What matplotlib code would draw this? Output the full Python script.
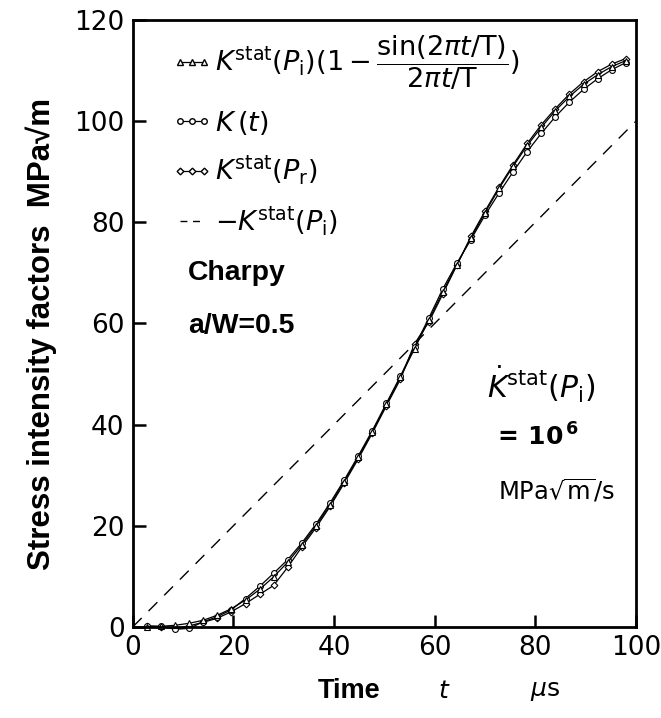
import matplotlib
matplotlib.use("Agg")
import matplotlib.pyplot as plt
from matplotlib.lines import Line2D
from matplotlib import font_manager

# Time samples (microseconds)
time_us = [2.8, 5.6, 8.4, 11.2, 14.0, 16.8, 19.6, 22.4, 25.2, 28.0,
           30.8, 33.6, 36.4, 39.2, 42.0, 44.8, 47.6, 50.4, 53.2, 56.0,
           58.8, 61.6, 64.4, 67.2, 70.0, 72.8, 75.6, 78.4, 81.2, 84.0,
           86.8, 89.6, 92.4, 95.2, 98.0]

# K^stat(P_i)(1 - sin(2 pi t/T)/(2 pi t/T))
k_sine = [0.0, 0.1, 0.3, 0.7, 1.3, 2.3, 3.6, 5.3, 7.4, 9.9,
          12.8, 16.2, 20.0, 24.1, 28.7, 33.5, 38.6, 44.0, 49.4, 55.0,
          60.6, 66.2, 71.6, 76.9, 81.9, 86.7, 91.1, 95.2, 98.8, 102.1,
          104.9, 107.3, 109.2, 110.8, 112.0]

# dynamic K(t)
k_dyn = [0.2, 0.1, -0.5, -0.3, 1.0, 2.0, 3.4, 5.6, 8.0, 10.6,
         13.3, 16.6, 20.3, 24.5, 29.0, 33.8, 38.8, 44.2, 49.6, 55.4,
         61.0, 66.8, 71.9, 76.6, 81.4, 85.8, 90.0, 94.0, 97.6, 100.9,
         103.8, 106.3, 108.4, 110.2, 111.6]

# K^stat(P_r)
k_pr = [0.1, 0.0, -0.3, 0.2, 0.9, 1.7, 3.0, 4.6, 6.4, 8.2,
        11.8, 15.8, 19.6, 23.8, 28.4, 33.2, 38.3, 43.7, 49.0, 56.0,
        60.2, 65.8, 71.5, 77.2, 82.2, 87.0, 91.4, 95.6, 99.3, 102.5,
        105.4, 107.8, 109.8, 111.3, 112.4]

# K^stat(P_i), linear loading
t_lin = [0, 100]
k_lin = [0, 100]

x_ticks = [0, 20, 40, 60, 80, 100]
y_ticks = [0, 20, 40, 60, 80, 100, 120]

# prefer a narrow bold face for the titles when available
installed = {f.name for f in font_manager.fontManager.ttflist}
has_narrow = "Liberation Sans Narrow" in installed
narrow = ["Liberation Sans Narrow" if has_narrow else "Liberation Sans",
          "DejaVu Sans"]
nscale = 1.0 if has_narrow else 0.85

fig = plt.figure(figsize=(6.61, 7.18), dpi=100)
ax = fig.add_axes([0.201, 0.127, 0.761, 0.845])

mk = dict(color="black", lw=0.9, mfc="white", mec="black", mew=0.8,
          clip_on=False)
ax.plot(t_lin, k_lin, color="black", lw=1.0, dashes=(9, 7))
ax.plot(time_us, k_pr, marker="D", ms=3.4, **mk)
ax.plot(time_us, k_dyn, marker="o", ms=4.2, **mk)
ax.plot(time_us, k_sine, marker="^", ms=4.2, **mk)

ax.set_xlim(0, 100)
ax.set_ylim(0, 120)
ax.set_xticks(x_ticks)
ax.set_yticks(y_ticks)
ax.set_xticklabels([str(v) for v in x_ticks])
ax.set_yticklabels([str(v) for v in y_ticks])
ax.tick_params(direction="in", length=9, width=1.8, labelsize=19,
               pad=6)
for s in ax.spines.values():
    s.set_linewidth(2.0)

ax.set_ylabel("Stress intensity factors  MPa\u221am",
              fontsize=26.5 * nscale, fontweight="bold", family=narrow,
              va="center")
ax.yaxis.set_label_coords(-0.182, 0.482)

fig.text(0.481, 0.038, "Time", fontsize=23 * nscale, fontweight="bold",
         family=narrow, ha="left", va="center")
fig.text(0.672, 0.038, r"$t$", fontsize=18, ha="center", va="center")
fig.text(0.825, 0.038, r"$\mu$s", fontsize=18, ha="center", va="center")

handles = [
    Line2D([], [], marker="^", ms=4, color="black", lw=0.9, mfc="white"),
    Line2D([], [], marker="o", ms=4, color="black", lw=0.9, mfc="white"),
    Line2D([], [], marker="D", ms=3.4, color="black", lw=0.9, mfc="white"),
    Line2D([], [], color="black", lw=1.0, dashes=(5, 4)),
]
labels = [
    r"$K^{\rm stat}(P_{\rm i})(1-\dfrac{\sin(2\pi t/{\rm T})}{2\pi t/{\rm T}})$",
    r"$K\,(t)$",
    r"$K^{\rm stat}(P_{\rm r})$",
    r"$-K^{\rm stat}(P_{\rm i})$",
]
ax.legend(handles, labels, loc="upper left", frameon=False, fontsize=19.5,
          numpoints=3, handlelength=1.5, handletextpad=0.1,
          labelspacing=0.62, borderaxespad=0.1, bbox_to_anchor=(0.05, 1.0))

ax.text(11, 70, "Charpy", fontsize=24 * nscale, fontweight="bold",
        family=narrow, va="center")
ax.text(11, 59.5, "a/W=0.5", fontsize=24 * nscale, fontweight="bold",
        family=narrow, va="center")

ax.text(70.5, 48, r"$\dot{K}^{\rm stat}(P_{\rm i})$", fontsize=21.5,
        va="center")
ax.text(71.5, 37.5, r"$\mathbf{=\,10^{\,6}}$", fontsize=18,
        va="center")
ax.text(72.5, 27, r"MPa$\sqrt{\rm m}$/s", fontsize=17.5, va="center")

fig.savefig("out.png", dpi=100)
